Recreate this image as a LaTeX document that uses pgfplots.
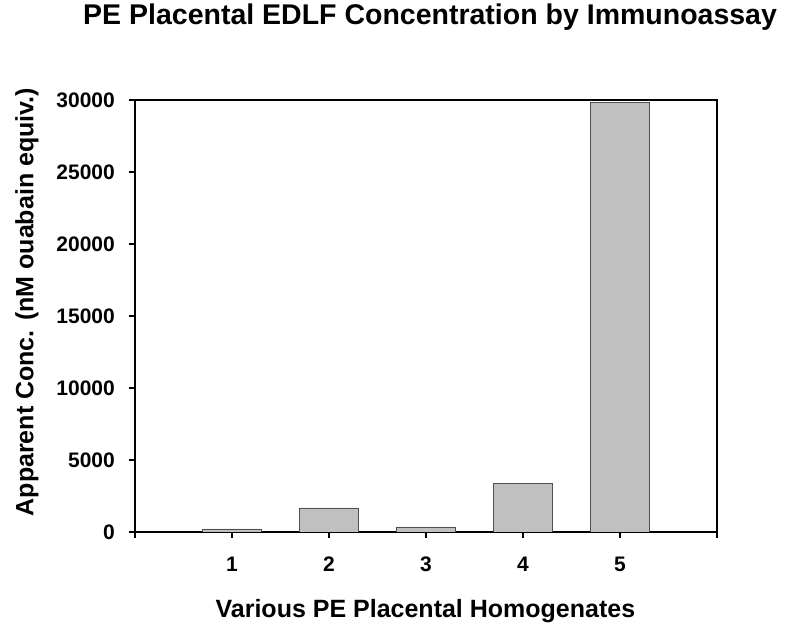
\documentclass[border=0pt]{standalone}
\usepackage{fontspec}
\setmainfont{Liberation Sans}
\usepackage{pgfplots}
\pgfplotsset{compat=1.18}
\usetikzlibrary{calc}
\definecolor{barfill}{HTML}{C0C0C0}
\definecolor{baredge}{HTML}{505050}
\begin{document}
\begin{tikzpicture}
\begin{axis}[
  name=ax,
  scale only axis,
  width=582pt, height=432pt,
  xmin=0, xmax=6, ymin=0, ymax=30000,
  xtick={0,1,2,3,4,5,6},
  xticklabels={,1,2,3,4,5,},
  ytick={0,5000,10000,15000,20000,25000,30000},
  scaled y ticks=false,
  /pgf/number format/set thousands separator={},
  /pgf/number format/assume math mode=true,
  tick pos=left,
  tick align=outside,
  major tick length=6pt,
  tick style={black, line width=1.1pt},
  axis line style={black, line width=1.3pt},
  ticklabel style={font=\fontsize{21}{25}\selectfont\bfseries},
  xticklabel style={inner sep=0pt, anchor=north, yshift=-19pt},
  yticklabel style={inner sep=0pt, anchor=east, xshift=-14pt},
  ybar, bar width=0.6,
  xlabel={Various PE Placental Homogenates},
  ylabel={Apparent Conc. (nM ouabain equiv.)},
  xlabel style={font=\fontsize{25}{30}\selectfont\bfseries, at={(axis description cs:0.499,-0.197)}, anchor=base, inner sep=0pt},
  ylabel style={font=\fontsize{25}{30}\selectfont\bfseries, at={(axis description cs:-0.1856,0.532)}, anchor=center, inner sep=0pt},
  title={PE Placental EDLF Concentration by Immunoassay},
  title style={font=\fontsize{28.5}{34}\selectfont\bfseries, at={(axis description cs:0.507,1.162)}, anchor=base, inner sep=0pt},
]
\addplot[fill=barfill, draw=baredge, line width=0.9pt] coordinates {
  (1,210) (2,1670) (3,350) (4,3400) (5,29800)
};
\end{axis}
\useasboundingbox ($(ax.south west)+(-135pt,-95pt)$) rectangle ($(ax.north east)+(68pt,100pt)$);
\end{tikzpicture}
\end{document}
